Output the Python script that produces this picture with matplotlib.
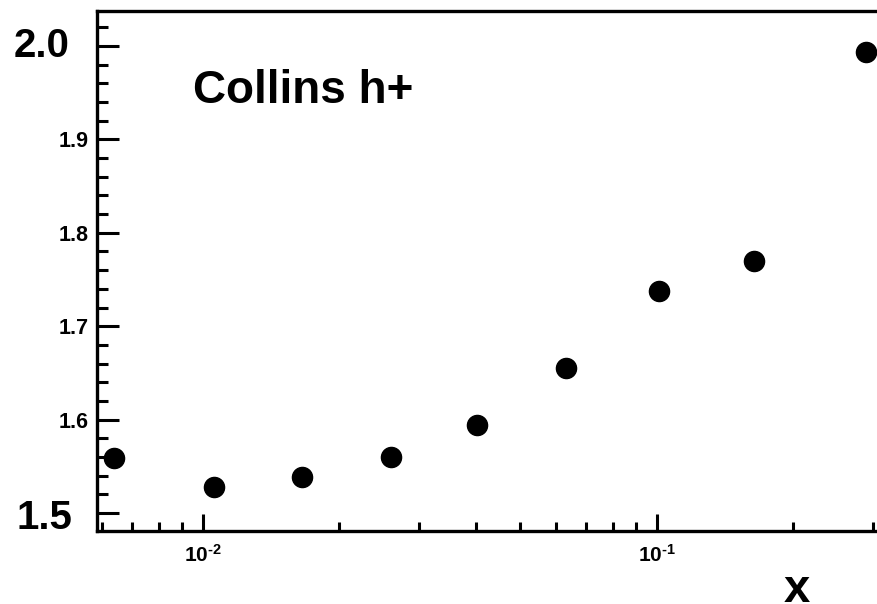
import matplotlib
matplotlib.use("Agg")
import matplotlib.pyplot as plt
from matplotlib.ticker import MultipleLocator, LogLocator, NullFormatter, FixedLocator

plt.rcParams['font.family'] = ['Liberation Sans', 'DejaVu Sans']
plt.rcParams['font.weight'] = 'bold'
plt.rcParams['mathtext.fontset'] = 'custom'
plt.rcParams['mathtext.rm'] = 'Liberation Sans:bold'
plt.rcParams['mathtext.default'] = 'rm'

# data
x_vals = [0.00639, 0.01057, 0.01655, 0.0260, 0.0403, 0.0632, 0.1015, 0.1637, 0.289]
y_vals = [1.559, 1.528, 1.538, 1.560, 1.594, 1.655, 1.738, 1.770, 1.9935]
small_yticks = [1.6, 1.7, 1.8, 1.9]
big_yticks = [1.5, 2.0]
xticks = [0.01, 0.1]
xtick_labels = [r'$10^{\text{-2}}$', r'$10^{\text{-1}}$']

fig = plt.figure(figsize=(8.77, 6.04), dpi=100)
ax = fig.add_axes([97 / 877, 1 - 531 / 604, 1 - 97 / 877, (531 - 11) / 604])

ax.plot(x_vals, y_vals, 'o', color='black', markersize=14.5, clip_on=False, zorder=5)

ax.set_xscale('log')
ax.set_xlim(0.00585, 0.306)
ax.set_ylim(1.4806, 2.0376)

ax.spines['right'].set_visible(False)
for s in ['left', 'bottom', 'top']:
    ax.spines[s].set_linewidth(2.4)

ax.xaxis.set_major_locator(FixedLocator(xticks))
ax.set_xticklabels(xtick_labels, fontsize=15)
ax.xaxis.set_minor_locator(LogLocator(base=10, subs=range(2, 10)))
ax.xaxis.set_minor_formatter(NullFormatter())

ax.yaxis.set_major_locator(FixedLocator(big_yticks + small_yticks))
ax.set_yticklabels(['', ''] + ['%.1f' % v for v in small_yticks], fontsize=15.5)
ax.yaxis.set_minor_locator(MultipleLocator(0.02))

ax.tick_params(axis='x', which='major', direction='in', length=12, width=2.2, pad=9)
ax.tick_params(axis='x', which='minor', direction='in', length=6.5, width=2.2)
ax.tick_params(axis='y', which='major', direction='in', length=15.5, width=2.2, pad=6)
ax.tick_params(axis='y', which='minor', direction='in', length=8, width=2.2)

for v, dx, dy in zip(big_yticks, [-0.031, -0.035], [-0.006, 0.0]):
    ax.text(dx, v + dy, '%.1f' % v, transform=ax.get_yaxis_transform(),
            ha='right', va='center', fontsize=29, fontweight='bold')

fig.text(193 / 877, 1 - 103 / 604, 'Collins h+', fontsize=33, fontweight='bold',
         ha='left', va='baseline')
fig.text(797 / 877, 1 - 601.5 / 604, 'x', fontsize=34, fontweight='bold',
         ha='center', va='baseline')

fig.savefig('out.png', dpi=100)
